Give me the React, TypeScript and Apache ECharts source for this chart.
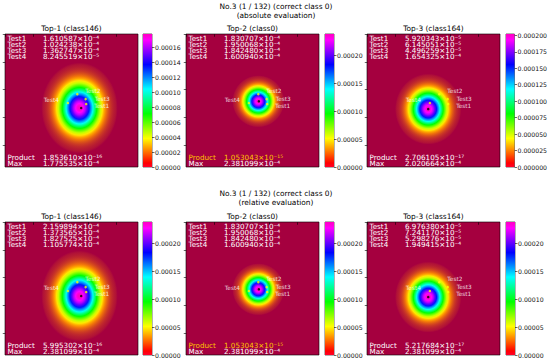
import React, { useEffect, useRef } from "react";
import * as echarts from "echarts";

// ---------- data ----------
const suptitleLines = [
  ["No.3 (1 / 132) (correct class 0)", "(absolute evaluation)"],
  ["No.3 (1 / 132) (correct class 0)", "(relative evaluation)"],
];
const panelTitles = ["Top-1 (class146)", "Top-2 (class0)", "Top-3 (class164)"];
const testNames = ["Test1", "Test2", "Test3", "Test4"];
const testX = [146, 130, 145, 113];
const testY = [126, 108, 117, 124];

// panels in row-major order: top row (absolute), bottom row (relative)
const testValues = [
  [1.610587e-4, 1.024238e-4, 1.362747e-4, 8.245519e-5],
  [1.830707e-4, 1.950068e-4, 1.84248e-4, 1.60094e-4],
  [5.920343e-5, 6.145051e-5, 4.496259e-5, 1.654325e-4],
  [2.159894e-4, 1.373565e-4, 1.827525e-4, 1.105774e-4],
  [1.830707e-4, 1.950068e-4, 1.84248e-4, 1.60094e-4],
  [6.97638e-5, 7.24117e-5, 5.298276e-5, 1.949415e-4],
];
const productValues = [1.85361e-16, 1.053043e-15, 2.706105e-17, 5.995302e-16, 1.053043e-15, 5.217684e-17];
const maxValues = [1.775535e-4, 2.381099e-4, 2.020664e-4, 2.381099e-4, 2.381099e-4, 2.381099e-4];
const colorbarMax = [1.775535e-4, 2.381099e-4, 2.020664e-4, 2.381099e-4, 2.381099e-4, 2.381099e-4];
const colorbarTicks = [
  [0, 0.00002, 0.00004, 0.00006, 0.00008, 0.0001, 0.00012, 0.00014, 0.00016],
  [0, 0.00005, 0.0001, 0.00015, 0.0002],
  [0, 0.000025, 0.00005, 0.000075, 0.0001, 0.000125, 0.00015, 0.000175, 0.0002],
  [0, 0.00005, 0.0001, 0.00015, 0.0002],
  [0, 0.00005, 0.0001, 0.00015, 0.0002],
  [0, 0.00005, 0.0001, 0.00015, 0.0002],
];
const colorbarDecimals = [5, 5, 6, 5, 5, 5];
const peakX = [137, 131, 110, 137, 131, 110];
const peakY = [133, 121, 135, 133, 121, 135];
const blobX = [134, 130, 110, 134, 130, 110];
const blobY = [133, 121, 135, 133, 121, 135];
const blobRadiusX = [69, 47, 60, 69, 47, 60];
const blobRadiusY = [82, 47, 64, 82, 47, 64];
const blobPeak = [1.775535e-4, 2.381099e-4, 2.020664e-4, 2.381099e-4, 2.381099e-4, 2.381099e-4];
// radial profile (fraction of blob radius -> fraction of peak)
const profileRadius = [0, 0.05, 0.1, 0.15, 0.2, 0.25, 0.3, 0.35, 0.4, 0.45, 0.5, 0.55, 0.6, 0.65, 0.7, 0.75, 0.8, 0.85, 0.9, 0.95, 1];
const profileLevel = [1, 0.989, 0.956, 0.904, 0.835, 0.755, 0.667, 0.576, 0.487, 0.402, 0.325, 0.256, 0.198, 0.149, 0.11, 0.08, 0.056, 0.039, 0.026, 0.017, 0];
const axisTicks = [0, 50, 100, 150, 200];

// ---------- layout / style ----------
const PANEL_LEFT = [5, 186, 367];
const ROW_TOP = [34, 222];
const PANEL_SIZE = 133;
const CB_LEFT = [143, 325, 506];
const CB_WIDTH = 9;
const FONT = '"DejaVu Sans", sans-serif';
const BG = [165, 0, 63];
const FADE = 0.13;
const TEST_LABEL_OFFSET: [number, number, string][] = [
  [8, 2, "left"],
  [8, -3, "left"],
  [9, 0, "left"],
  [-9, -3, "right"],
];

const GIST_STOPS: [number, number[]][] = [
  [0, [255, 0, 41]],
  [0.03, [255, 0, 0]],
  [0.215, [255, 255, 0]],
  [0.4, [0, 255, 0]],
  [0.586, [0, 255, 255]],
  [0.77, [0, 0, 255]],
  [0.954, [255, 0, 255]],
  [1, [255, 0, 191]],
];
function gist(v: number): number[] {
  const x = Math.min(1, Math.max(0, v));
  for (let i = 1; i < GIST_STOPS.length; i++) {
    const [p0, c0] = GIST_STOPS[i - 1];
    const [p1, c1] = GIST_STOPS[i];
    if (x <= p1) {
      const t = (x - p0) / (p1 - p0);
      return c0.map((c, k) => c + (c1[k] - c) * t);
    }
  }
  return GIST_STOPS[GIST_STOPS.length - 1][1];
}
const css = (c: number[]) => `rgb(${Math.round(c[0])},${Math.round(c[1])},${Math.round(c[2])})`;
function blobColor(level: number): string {
  if (level >= FADE) return css(gist(level));
  const g = gist(FADE);
  const t = level / FADE;
  return css(BG.map((b, k) => b + (g[k] - b) * t));
}
const SUP: Record<string, string> = {
  "-": "\u207B", "0": "\u2070", "1": "\u00B9", "2": "\u00B2", "3": "\u00B3",
  "4": "\u2074", "5": "\u2075", "6": "\u2076", "7": "\u2077", "8": "\u2078", "9": "\u2079",
};
function sci(v: number): string {
  const e = Math.floor(Math.log10(v));
  const m = v / Math.pow(10, e);
  return `${m.toFixed(6)}\u00D710${String(e).split("").map((c) => SUP[c]).join("")}`;
}

function buildOption() {
  const grid: any[] = [];
  const xAxis: any[] = [];
  const yAxis: any[] = [];
  const series: any[] = [];
  const graphic: any[] = [];
  const txt = (x: number, y: number, text: string, size: number, fill: string, align = "left") => ({
    type: "text",
    x,
    y,
    z: 100,
    silent: true,
    style: {
      text,
      fill,
      fontSize: size,
      fontFamily: FONT,
      align,
      verticalAlign: "middle",
      textAlign: align,
      textVerticalAlign: "middle",
    },
  });

  // suptitles
  suptitleLines.forEach((lines, r) => {
    const y0 = r === 0 ? 6 : 193.5;
    lines.forEach((l, i) => graphic.push(txt(276, y0 + i * 9.3, l, 7.4, "#000", "center")));
  });

  for (let p = 0; p < 6; p++) {
    const row = Math.floor(p / 3);
    const col = p % 3;
    const left = PANEL_LEFT[col];
    const top = ROW_TOP[row];
    const gi = 2 * p;

    grid.push({
      left, top, width: PANEL_SIZE, height: PANEL_SIZE, show: true,
      backgroundColor: css(BG), borderColor: "#000", borderWidth: 0.6,
    });
    grid.push({
      left: CB_LEFT[col], top, width: CB_WIDTH, height: PANEL_SIZE, show: true,
      backgroundColor: "transparent", borderColor: "#000", borderWidth: 0.6,
    });

    const tickStyle = { show: true, inside: false, length: 2.5, lineStyle: { color: "#000", width: 0.6 }, customValues: axisTicks };
    xAxis.push({
      gridIndex: gi, type: "value", min: -0.5, max: 239.5,
      axisLine: { show: false }, axisTick: tickStyle,
      axisLabel: { show: false }, splitLine: { show: false },
    });
    yAxis.push({
      gridIndex: gi, type: "value", min: -0.5, max: 239.5, inverse: true,
      axisLine: { show: false }, axisTick: tickStyle,
      axisLabel: { show: false }, splitLine: { show: false },
    });
    xAxis.push({ gridIndex: gi + 1, type: "category", data: ["cb"], show: false });
    const dec = colorbarDecimals[p];
    yAxis.push({
      gridIndex: gi + 1, type: "value", position: "right", min: 0, max: colorbarMax[p],
      axisLine: { show: false },
      axisTick: { show: true, length: 2.5, lineStyle: { color: "#000", width: 0.6 }, customValues: colorbarTicks[p] },
      axisLabel: {
        show: true, customValues: colorbarTicks[p], formatter: (v: number) => v.toFixed(dec),
        fontSize: 6.2, fontFamily: FONT, color: "#111", margin: 3,
      },
      splitLine: { show: false },
    });

    // colorbar
    series.push({
      type: "bar", xAxisIndex: gi + 1, yAxisIndex: gi + 1, silent: true,
      barWidth: "100%", data: [colorbarMax[p]],
      itemStyle: {
        color: new echarts.graphic.LinearGradient(0, 1, 0, 0,
          GIST_STOPS.map(([o, c]) => ({ offset: o, color: css(c) }))),
      },
    });

    // blob: circle in local space, stretched vertically, filled with a radial gradient
    const ratio = blobPeak[p] / colorbarMax[p];
    const stops = profileRadius.map((r, i) => ({ offset: r, color: blobColor(profileLevel[i] * ratio) }));
    series.push({
      type: "custom", xAxisIndex: gi, yAxisIndex: gi, silent: true, clip: true, z: 2,
      data: [[blobX[p], blobY[p], blobRadiusX[p], blobRadiusY[p]]],
      renderItem: (params: any, api: any) => {
        const c = api.coord([api.value(0), api.value(1)]);
        const s = api.size([api.value(2), api.value(3)]);
        const rx = s[0];
        return {
          type: "circle",
          x: c[0],
          y: c[1],
          scaleX: 1,
          scaleY: s[1] / rx,
          shape: { cx: 0, cy: 0, r: rx },
          style: { fill: new echarts.graphic.RadialGradient(0, 0, rx, stops, true) },
        };
      },
    });

    // test points
    series.push({
      type: "scatter", xAxisIndex: gi, yAxisIndex: gi, silent: true, z: 4,
      symbolSize: 2.5, itemStyle: { color: "#ffff00" },
      data: testNames.map((n, i) => {
        const [dx, dy, al] = TEST_LABEL_OFFSET[i];
        return {
          name: n, value: [testX[i], testY[i]],
          label: { position: [1.25 + dx, 1.25 + dy], align: al, verticalAlign: "middle" },
        };
      }),
      label: { show: true, formatter: "{b}", color: "#fff", fontSize: 5.8, fontFamily: FONT },
    });
    // peak point
    series.push({
      type: "scatter", xAxisIndex: gi, yAxisIndex: gi, silent: true, z: 5,
      symbolSize: 2.5, itemStyle: { color: "#000" },
      data: [[peakX[p], peakY[p]]],
    });

    // titles & annotations
    graphic.push(txt(left + PANEL_SIZE / 2, top - 6, panelTitles[col], 7.4, "#000", "center"));
    testNames.forEach((n, i) => {
      graphic.push(txt(left + 2.5, top + 4 + i * 6, n, 7.2, "#fff"));
      graphic.push(txt(left + 38, top + 4 + i * 6, sci(testValues[p][i]), 7.2, "#fff"));
    });
    const rowProducts = productValues.slice(row * 3, row * 3 + 3);
    const best = rowProducts.indexOf(Math.max(...rowProducts));
    const prodColor = best === col ? "#ffc400" : "#fff";
    graphic.push(txt(left + 2.5, top + 123.5, "Product", 7.2, prodColor));
    graphic.push(txt(left + 38, top + 123.5, sci(productValues[p]), 7.2, prodColor));
    graphic.push(txt(left + 2.5, top + 129.5, "Max", 7.2, "#fff"));
    graphic.push(txt(left + 38, top + 129.5, sci(maxValues[p]), 7.2, "#fff"));
  }

  return {
    animation: false,
    backgroundColor: "#fff",
    grid, xAxis, yAxis, series, graphic,
  };
}

export default function App() {
  const ref = useRef<HTMLDivElement>(null);
  useEffect(() => {
    if (!ref.current) return;
    const chart = echarts.init(ref.current, undefined, { renderer: "svg" });
    chart.setOption(buildOption());
    return () => chart.dispose();
  }, []);
  return (
    <div
      ref={ref}
      style={{ position: "absolute", left: 0, top: 0, width: 550, height: 363, background: "#fff" }}
    />
  );
}
